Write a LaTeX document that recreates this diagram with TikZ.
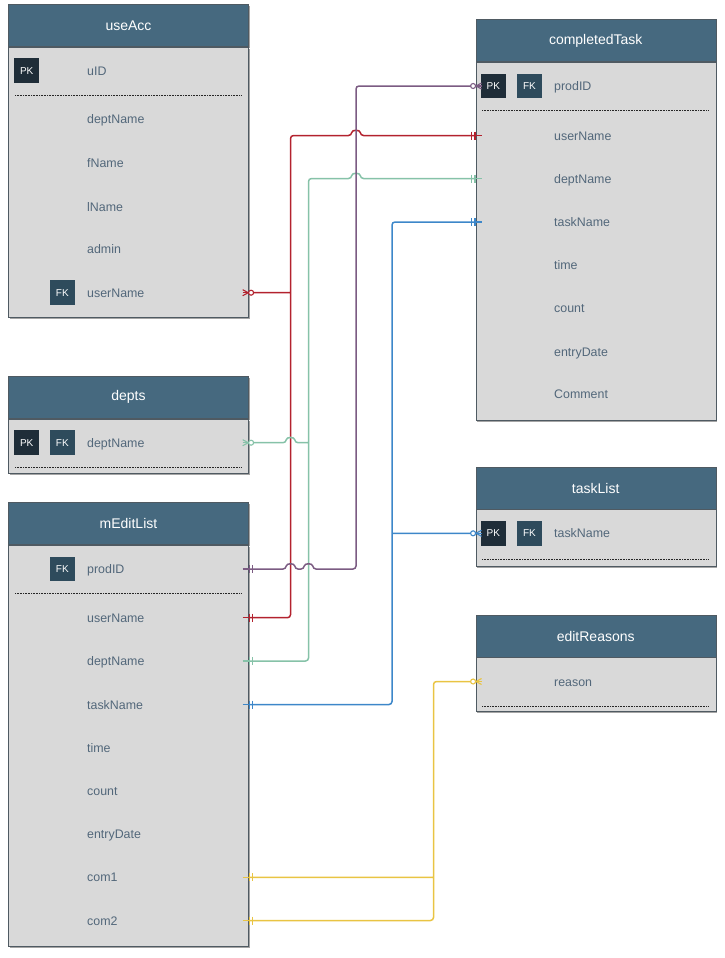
\documentclass[tikz,border=0pt]{standalone}
\usepackage{fontspec}
\setmainfont{Liberation Sans}
\usepackage{xcolor}
\usetikzlibrary{positioning, shadows}
\definecolor{ER_Head}{HTML}{46697F}
\definecolor{ER_Body}{HTML}{D9D9D9}
\definecolor{ER_Text}{HTML}{52677A}
\definecolor{ER_PK}{HTML}{1F2D38}
\definecolor{ER_FK}{HTML}{2E4B5C}
\definecolor{ER_Edge}{HTML}{4F5A62}
\definecolor{REL_Red}{HTML}{B3222E}
\definecolor{REL_Green}{HTML}{86C2A8}
\definecolor{REL_Purple}{HTML}{7B5B82}
\definecolor{REL_Blue}{HTML}{3D87C9}
\definecolor{REL_Yellow}{HTML}{E9C443}

\begin{document}
\begin{tikzpicture}[
  x=1pt, y=-1pt,
  every node/.style={font=\fontsize{12.4}{14}\selectfont},
  thead/.style={draw=ER_Edge, fill=ER_Head, text=white, minimum width=240pt, minimum height=42pt, inner sep=0pt, font=\fontsize{14}{16}\selectfont, drop shadow={shadow xshift=1.5pt, shadow yshift=-2pt, fill=black!70, opacity=0.5}},
  tbody/.style={draw=ER_Edge, fill=ER_Body, minimum width=240pt, inner sep=0pt, drop shadow={shadow xshift=1.5pt, shadow yshift=-2pt, fill=black!70, opacity=0.5}},
  field/.style={anchor=west, text=ER_Text, inner sep=0pt, text height=9pt, text depth=0pt},
  badge/.style={fill=#1, text=white, minimum size=24.5pt, inner sep=0pt, font=\fontsize{10}{11}\selectfont},
  badge/.default=ER_FK,
  sep/.style={line width=0.9pt, dash pattern=on 0.8pt off 0.8pt, black!85},
  rel/.style={line width=1.5pt, rounded corners=3pt},
  crowzero/.pic={
    \draw[line width=1.4pt] (-6,0) -- (0,0);
    \draw[line width=1.1pt] (-6,-3) -- (-0.5,0) -- (-6,3);
    \draw[line width=1.1pt, fill=white] (2.4,0) circle (2.5);
  },
  bartwo/.pic={
    \draw[line width=1.4pt] (-6,0) -- (1,0);
    \draw[line width=1.1pt] (0.5,-4) -- (0.5,4) (4,-4) -- (4,4);
  },
]
  \useasboundingbox (0,0) rectangle (724,958);

  % useAcc
  \node[thead] (uaHead) at (128.5,25.5) {useAcc};
  \node[tbody, minimum height=270.5pt, below=0pt of uaHead] (ua) {};
  \node[badge=ER_PK] (uaPK) at (26.7,70.7) {PK};
  \node[badge] (uaFK) at (62.3,292.7) {FK};
  \node[field] (uaUid) at (87,70.7) {uID};
  \draw[sep] (15,95.5) -- (242,95.5);
  \node[field] (uaDept) at (87,119.3) {deptName};
  \node[field] (uaF) at (87,162.7) {fName};
  \node[field] (uaL) at (87,206.5) {lName};
  \node[field] (uaAdmin) at (87,249.3) {admin};
  \node[field] (uaUser) at (87,292.7) {userName};

  % depts
  \node[thead] (dpHead) at (128.5,397.3) {depts};
  \node[tbody, minimum height=54.5pt, below=0pt of dpHead] (dp) {};
  \node[badge=ER_PK] (dpPK) at (26.7,442.7) {PK};
  \node[badge] (dpFK) at (62.3,442.7) {FK};
  \node[field] (dpDept) at (87,442.7) {deptName};
  \draw[sep] (15,467.5) -- (242,467.5);

  % mEditList
  \node[thead] (meHead) at (128.5,523.3) {mEditList};
  \node[tbody, minimum height=401pt, below=0pt of meHead] (me) {};
  \node[badge] (meFK) at (62.3,569) {FK};
  \node[field] (meProd) at (87,569) {prodID};
  \draw[sep] (15,593.5) -- (242,593.5);
  \node[field] (meUser) at (87,617.7) {userName};
  \node[field] (meDept) at (87,661) {deptName};
  \node[field] (meTask) at (87,704.5) {taskName};
  \node[field] (meTime) at (87,747.5) {time};
  \node[field] (meCount) at (87,790.5) {count};
  \node[field] (meDate) at (87,834) {entryDate};
  \node[field] (meCom1) at (87,877.3) {com1};
  \node[field] (meCom2) at (87,920.5) {com2};

  % completedTask
  \node[thead] (ctHead) at (595.7,40.5) {completedTask};
  \node[tbody, minimum height=358pt, below=0pt of ctHead] (ct) {};
  \node[badge=ER_PK] (ctPK) at (493.3,86) {PK};
  \node[badge] (ctFK) at (529.5,86) {FK};
  \node[field] (ctProd) at (554,86) {prodID};
  \draw[sep] (482,110.7) -- (709,110.7);
  \node[field] (ctUser) at (554,135.5) {userName};
  \node[field] (ctDept) at (554,178.5) {deptName};
  \node[field] (ctTask) at (554,222) {taskName};
  \node[field] (ctTime) at (554,264.5) {time};
  \node[field] (ctCount) at (554,308.3) {count};
  \node[field] (ctDate) at (554,351.7) {entryDate};
  \node[field] (ctComment) at (554,394.3) {Comment};

  % taskList
  \node[thead] (tlHead) at (595.7,488) {taskList};
  \node[tbody, minimum height=56.5pt, below=0pt of tlHead] (tl) {};
  \node[badge=ER_PK] (tlPK) at (493.3,533.3) {PK};
  \node[badge] (tlFK) at (529.5,533.3) {FK};
  \node[field] (tlTask) at (554,533.3) {taskName};
  \draw[sep] (482,559.5) -- (709,559.5);

  % editReasons
  \node[thead] (erHead) at (595.7,636) {editReasons};
  \node[tbody, minimum height=54pt, below=0pt of erHead] (er) {};
  \node[field] (erReason) at (554,681.5) {reason};
  \draw[sep] (482,706) -- (709,706);

  % Bus lines and hops
  \coordinate (busRed) at (290.5,0);
  \coordinate (busGreen) at (308.5,0);
  \coordinate (busPurple) at (356,0);
  \coordinate (busBlue) at (392,0);
  \coordinate (busYellow) at (433.5,0);
  \coordinate (hopRU) at (busPurple |- ctUser);
  \coordinate (hopGD) at (busPurple |- ctDept);
  \coordinate (hopDR) at (busRed |- dpDept);
  \coordinate (hopPR) at (busRed |- meProd);
  \coordinate (hopPG) at (busGreen |- meProd);

  % Relations
  \draw[rel, REL_Red] (ct.west |- ctUser) -- ([xshift=4.5pt]hopRU)
    .. controls ([xshift=4pt, yshift=6pt]hopRU) and ([xshift=-4pt, yshift=6pt]hopRU) .. ([xshift=-4.5pt]hopRU)
    -- (busRed |- ctUser) -- (busRed |- meUser) -- (me.east |- meUser)
    (ua.east |- uaUser) -- (busRed |- uaUser);
  \draw[rel, REL_Green] (ct.west |- ctDept) -- ([xshift=4.5pt]hopGD)
    .. controls ([xshift=4pt, yshift=6pt]hopGD) and ([xshift=-4pt, yshift=6pt]hopGD) .. ([xshift=-4.5pt]hopGD)
    -- (busGreen |- ctDept) -- (busGreen |- meDept) -- (me.east |- meDept)
    (dp.east |- dpDept) -- ([xshift=-4.5pt]hopDR)
    .. controls ([xshift=-4pt, yshift=6pt]hopDR) and ([xshift=4pt, yshift=6pt]hopDR) .. ([xshift=4.5pt]hopDR)
    -- (busGreen |- dpDept);
  \draw[rel, REL_Purple] (ct.west |- ctProd) -- (busPurple |- ctProd) -- (busPurple |- meProd)
    -- ([xshift=4.5pt]hopPG)
    .. controls ([xshift=4pt, yshift=6pt]hopPG) and ([xshift=-4pt, yshift=6pt]hopPG) .. ([xshift=-4.5pt]hopPG)
    -- ([xshift=4.5pt]hopPR)
    .. controls ([xshift=4pt, yshift=6pt]hopPR) and ([xshift=-4pt, yshift=6pt]hopPR) .. ([xshift=-4.5pt]hopPR)
    -- (me.east |- meProd);
  \draw[rel, REL_Blue] (ct.west |- ctTask) -- (busBlue |- ctTask) -- (busBlue |- meTask) -- (me.east |- meTask)
    (tl.west |- tlTask) -- (busBlue |- tlTask);
  \draw[rel, REL_Yellow] (er.west |- erReason) -- (busYellow |- erReason) -- (busYellow |- meCom2) -- (me.east |- meCom2)
    (me.east |- meCom1) -- (busYellow |- meCom1);

  % Ends
  \pic[REL_Red] at (ua.east |- uaUser) {crowzero};
  \pic[REL_Red, xscale=-1] at (ct.west |- ctUser) {bartwo};
  \pic[REL_Red] at (me.east |- meUser) {bartwo};
  \pic[REL_Green] at (dp.east |- dpDept) {crowzero};
  \pic[REL_Green, xscale=-1] at (ct.west |- ctDept) {bartwo};
  \pic[REL_Green] at (me.east |- meDept) {bartwo};
  \pic[REL_Purple, xscale=-1] at (ct.west |- ctProd) {crowzero};
  \pic[REL_Purple] at (me.east |- meProd) {bartwo};
  \pic[REL_Blue, xscale=-1] at (tl.west |- tlTask) {crowzero};
  \pic[REL_Blue, xscale=-1] at (ct.west |- ctTask) {bartwo};
  \pic[REL_Blue] at (me.east |- meTask) {bartwo};
  \pic[REL_Yellow, xscale=-1] at (er.west |- erReason) {crowzero};
  \pic[REL_Yellow] at (me.east |- meCom1) {bartwo};
  \pic[REL_Yellow] at (me.east |- meCom2) {bartwo};
\end{tikzpicture}
\end{document}
